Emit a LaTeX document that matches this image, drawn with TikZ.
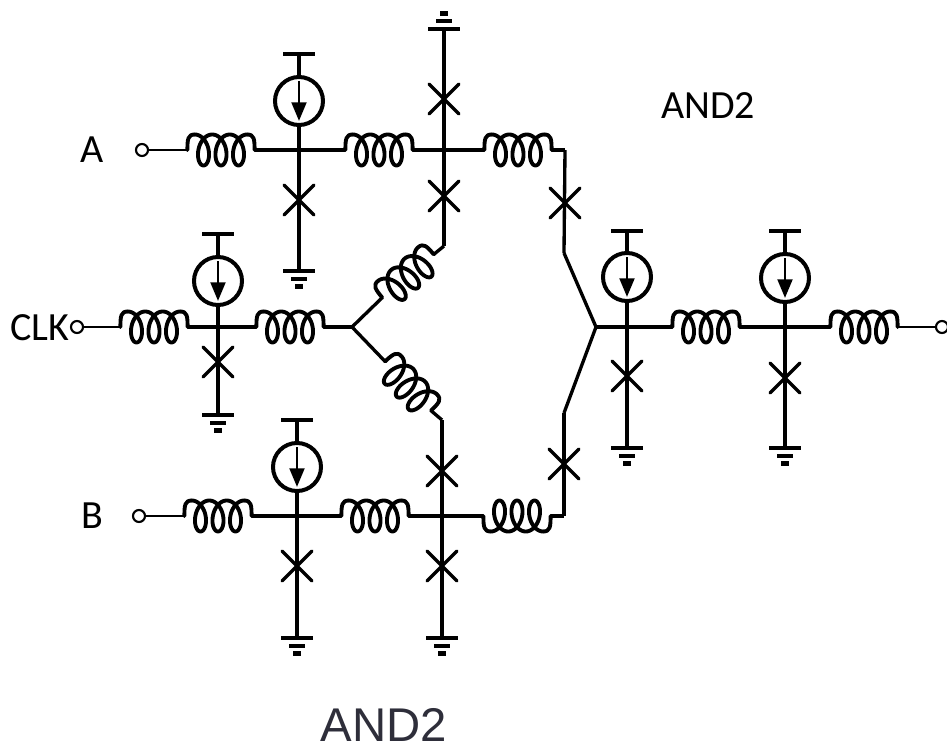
\documentclass[tikz,border=0pt]{standalone}
\usepackage{fontspec}
\setmainfont{Carlito}
\newfontfamily\arialfont{Liberation Sans}
\usetikzlibrary{arrows.meta,shapes.misc}

\definecolor{captiongray}{HTML}{2E2E3A}

\tikzset{
	coil/.pic={
		\draw[coilline] (-33.6,0) .. controls (-33.6,-11) and (-33,-15.5) .. (-26.25,-15.5);
		\draw[coilline] plot[domain=0:18.85,samples=160,variable=\t]
			({2.785*(\t-9.4248)+9.5*sin(\t r)},{-15.5*cos(\t r)});
		\draw[coilline] (26.25,-15.5) .. controls (33,-15.5) and (33.6,-11) .. (33.6,0);
		\coordinate (-in) at (-33.6,0);
		\coordinate (-out) at (33.6,0);
	},
	gnd/.pic={
		\fill (-16,-2) rectangle (16,2);
		\fill (-8,6) rectangle (8,10);
		\fill (-4,13) rectangle (4,18);
		\coordinate (-top) at (0,0);
	}
}

\begin{document}
\begin{tikzpicture}[x=0.75pt,y=-0.75pt]
	\tikzstyle{line}=[-,draw=black,line width=2.5pt]
	\tikzstyle{thinline}=[-,draw=black,line width=1.8pt]
	\tikzstyle{coilline}=[line width=2.9pt,line join=round,line cap=round]
	\tikzstyle{port}=[circle,draw=black,fill=white,line width=1.6pt,inner sep=0pt,minimum size=9pt]
	\tikzstyle{source}=[circle,draw=black,line width=3pt,inner sep=0pt,minimum size=36pt]
	\tikzstyle{sourcearrow}=[-{Triangle[length=14pt,width=11pt]},draw=black,line width=2.2pt,shorten >=4.5pt,shorten <=4.5pt]
	\tikzstyle{junction}=[cross out,draw=black,line width=2.5pt,line cap=round,inner sep=0pt,minimum size=20pt]
	\tikzstyle{bias}=[rectangle,fill=black,inner sep=0pt,minimum width=24pt,minimum height=2.8pt]
	\tikzstyle{signal}=[inner sep=0pt,font=\fontsize{30}{33}\selectfont]
	\useasboundingbox (0,0) rectangle (947,749);

	% A branch
	\node[signal] (nameA) at (92,150) {A};
	\node[port] (portA) at (142,150) {};
	\pic (coilA1) at (221,150) {coil};
	\pic (coilA2) at (379,150) {coil};
	\pic (coilA3) at (518,150) {coil};
	\coordinate (bendA) at (565,150);
	\node[source] (sourceA) at (299,101) {};
	\node[bias] (biasA) at (299,54) {};
	\node[junction] (jjA1) at (299,200) {};
	\pic (gndA) at (299,271) {gnd};
	\pic[rotate=180] (gndT) at (444,29) {gnd};
	\node[junction] (jjA2) at (444,99) {};
	\node[junction] (jjA3) at (444,196) {};
	\node[junction] (jjA4) at (565,203) {};

	% CLK branch
	\node[signal,anchor=west] (nameC) at (10,328) {CLK};
	\node[port] (portC) at (77,327) {};
	\pic (coilC1) at (154,327) {coil};
	\pic (coilC2) at (290,327) {coil};
	\coordinate (split) at (352,327);
	\node[source] (sourceC) at (218,281) {};
	\node[bias] (biasC) at (218,234) {};
	\node[junction] (jjC) at (218,362) {};
	\pic (gndC) at (218,415) {gnd};
	\pic[rotate=40] (coilU) at (408,276) {coil};
	\pic[rotate=-47] (coilD) at (408,386) {coil};
	\coordinate (bendU) at (444,246);
	\coordinate (bendD) at (442,420);

	% B branch
	\node[signal] (nameB) at (92,516) {B};
	\node[port] (portB) at (139,516) {};
	\pic (coilB1) at (218,516) {coil};
	\pic (coilB2) at (375,516) {coil};
	\pic[yscale=-1] (coilB3) at (517,516) {coil};
	\coordinate (bendB) at (564,516);
	\node[source] (sourceB) at (297,467) {};
	\node[bias] (biasB) at (297,420) {};
	\node[junction] (jjB1) at (297,566) {};
	\pic (gndB1) at (297,638) {gnd};
	\node[junction] (jjB2) at (442,471) {};
	\node[junction] (jjB3) at (442,566) {};
	\pic (gndB2) at (442,638) {gnd};
	\node[junction] (jjB4) at (564,464) {};

	% output
	\coordinate (mergeU) at (564,253);
	\coordinate (mergeD) at (564,413);
	\coordinate (merge) at (596,327);
	\pic (coilO1) at (706,327) {coil};
	\pic (coilO2) at (864,327) {coil};
	\node[port] (portO) at (942,327) {};
	\node[source] (sourceO1) at (627,277) {};
	\node[bias] (biasO1) at (627,231) {};
	\node[junction] (jjO1) at (627,376) {};
	\pic (gndO1) at (627,448) {gnd};
	\node[source] (sourceO2) at (785,278) {};
	\node[bias] (biasO2) at (785,231) {};
	\node[junction] (jjO2) at (785,378) {};
	\pic (gndO2) at (785,448) {gnd};

	\node[signal] (title) at (708,106) {AND2};
	\node[inner sep=0pt,text=captiongray,font=\arialfont\fontsize{35.5}{38}\selectfont] (caption) at (384,725) {AND2};

	% wires
	\draw (portA) to (coilA1-in) [thinline];
	\draw (coilA1-out) to (coilA2-in) [line];
	\draw (coilA2-out) to (coilA3-in) [line];
	\draw (coilA3-out) to (bendA) [line];
	\draw (bendA) to (mergeU) [line];
	\draw (mergeU) to (merge) [line];
	\draw (biasA) to (sourceA) [line];
	\draw (sourceA) to (gndA-top) [line];
	\draw (gndT-top) to (bendU) [line];
	\draw (bendU) to (coilU-out) [line];

	\draw (portC) to (coilC1-in) [thinline];
	\draw (coilC1-out) to (coilC2-in) [line];
	\draw (coilC2-out) to (split) [line];
	\draw (split) to (coilU-in) [line];
	\draw (split) to (coilD-in) [line];
	\draw (biasC) to (sourceC) [line];
	\draw (sourceC) to (gndC-top) [line];

	\draw (portB) to (coilB1-in) [thinline];
	\draw (coilB1-out) to (coilB2-in) [line];
	\draw (coilB2-out) to (coilB3-in) [line];
	\draw (coilB3-out) to (bendB) [line];
	\draw (bendB) to (mergeD) [line];
	\draw (mergeD) to (merge) [line];
	\draw (biasB) to (sourceB) [line];
	\draw (sourceB) to (gndB1-top) [line];
	\draw (coilD-out) to (bendD) [line];
	\draw (bendD) to (gndB2-top) [line];

	\draw (merge) to (coilO1-in) [line];
	\draw (coilO1-out) to (coilO2-in) [line];
	\draw (coilO2-out) to (portO) [thinline];
	\draw (biasO1) to (sourceO1) [line];
	\draw (sourceO1) to (gndO1-top) [line];
	\draw (biasO2) to (sourceO2) [line];
	\draw (sourceO2) to (gndO2-top) [line];

	\draw (sourceA.north) to (sourceA.south) [sourcearrow];
	\draw (sourceC.north) to (sourceC.south) [sourcearrow];
	\draw (sourceB.north) to (sourceB.south) [sourcearrow];
	\draw (sourceO1.north) to (sourceO1.south) [sourcearrow];
	\draw (sourceO2.north) to (sourceO2.south) [sourcearrow];
\end{tikzpicture}
\end{document}
